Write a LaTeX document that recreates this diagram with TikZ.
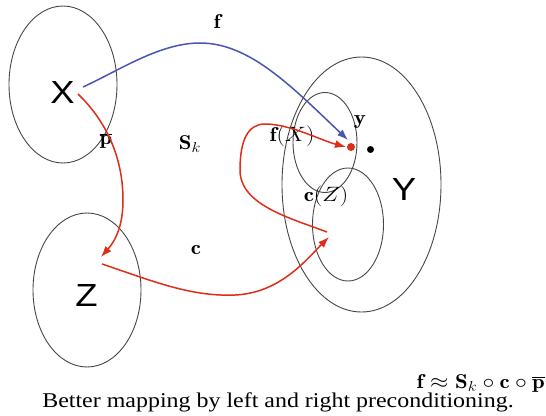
\documentclass[tikz,border=0pt]{standalone}
\usepackage{fontspec}
\usepackage{graphicx}
\usetikzlibrary{shapes.geometric,arrows.meta}
\newfontfamily\capfont{Liberation Serif}
\newfontfamily\setfont{Liberation Sans}
\newcommand{\hs}[1]{\scalebox{1.14}[1]{#1}}
\definecolor{setgray}{RGB}{70,70,70}
\definecolor{mapblue}{RGB}{72,86,175}
\definecolor{mapred}{RGB}{222,45,25}
\tikzset{
  setellipse/.style={ellipse, draw=setgray, line width=0.9pt, inner sep=0pt},
  setlabel/.style={font=\setfont\fontsize{32}{32}\selectfont, inner sep=0pt},
  mathlabel/.style={font=\fontsize{20}{20}\selectfont, inner sep=0pt},
  maparrow/.style={line width=1.5pt, -{Latex[length=11pt,width=8pt]}},
}
\begin{document}
\begin{tikzpicture}[x=1pt,y=-1pt]
\useasboundingbox (0,0) rectangle (546,415);
% sets
\node[setellipse, minimum width=108pt, minimum height=157pt] (Xset) at (63,84.5) {};
\node[setellipse, minimum width=108pt, minimum height=154pt] (Zset) at (87,290) {};
\node[setellipse, minimum width=159pt, minimum height=255pt] (Yset) at (361.5,184.5) {};
\node[setellipse, minimum width=64pt, minimum height=100pt] (fXset) at (325,142.5) {};
\node[setellipse, minimum width=71pt, minimum height=113pt] (cZset) at (348,224.5) {};
% set labels
\node[setlabel] (Xlab) at (62.5,92) {\hs{X}};
\node[setlabel] (Zlab) at (86.5,295.5) {\hs{Z}};
\node[setlabel] (Ylab) at (404,189) {\hs{Y}};
% points
\node[circle, fill=mapred, inner sep=0pt, minimum size=8pt] (ydot) at (351,147) {};
\node[circle, fill=black, inner sep=0pt, minimum size=7pt] (bdot) at (370.5,149.5) {};
% math labels
\node[mathlabel] (flab) at (217,21) {\hs{$\mathbf{f}$}};
\node[mathlabel] (Sklab) at (190,144) {\hs{$\mathbf{S}_k$}};
\node[mathlabel] (clab) at (196,250) {\hs{$\mathbf{c}$}};
\node[mathlabel] (plab) at (106,141) {\hs{$\overline{\mathbf{p}}$}};
\node[mathlabel] (ylab) at (360,122) {\hs{$\mathbf{y}$}};
\node[mathlabel] (fXlab) at (292,136) {\hs{$\mathbf{f}(X)$}};
\node[mathlabel] (cZlab) at (326,196) {\hs{$\mathbf{c}(Z)$}};
\node[mathlabel, anchor=base east] (formula) at (545,388) {\hs{$\mathbf{f}\approx\mathbf{S}_k\circ\mathbf{c}\circ\overline{\mathbf{p}}$}};
\node[font=\capfont\fontsize{21}{21}\selectfont, anchor=base, inner sep=0pt] (caption) at (278,407.5) {\hs{Better mapping by left and right preconditioning.}};
% connector end points
\coordinate (fstart) at (83,87);
\coordinate (fend) at (348,140);
\coordinate (pstart) at (78,94);
\coordinate (pend) at (101,257);
\coordinate (cstart) at (102,264);
\coordinate (cend) at (329,237);
\coordinate (sstart) at (327,232);
\coordinate (send) at (346,147);
% mappings
\draw[maparrow, draw=mapblue] (fstart) .. controls (120,70) and (160,43) .. (200,43)
   .. controls (250,43) and (292,87) .. (fend);
\draw[maparrow, draw=mapred] (pstart) .. controls (100,115) and (123,150) .. (123,200)
   .. controls (123,225) and (116,240) .. (pend);
\draw[maparrow, draw=mapred] (cstart) .. controls (150,280) and (190,297) .. (235,295)
   .. controls (280,293) and (306,260) .. (cend);
\draw[maparrow, draw=mapred] (sstart) .. controls (290,218) and (240,205) .. (240,170)
   .. controls (240,140) and (248,124) .. (265,124)
   .. controls (290,124) and (320,140) .. (send);
\end{tikzpicture}
\end{document}
